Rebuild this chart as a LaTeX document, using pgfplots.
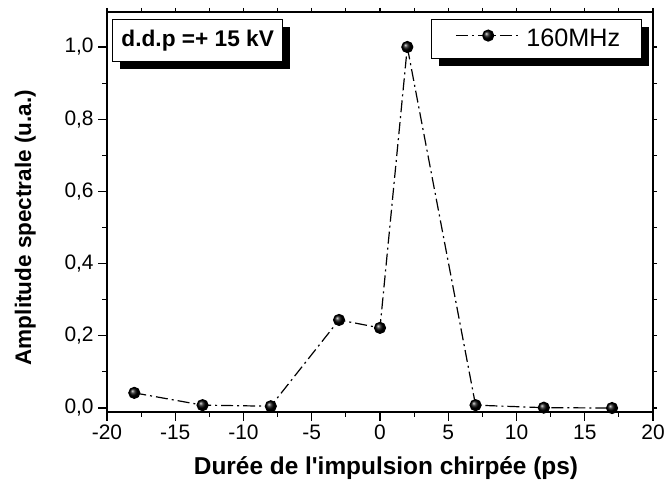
\documentclass[border=0pt]{standalone}
\usepackage{fontspec}
\setmainfont{Liberation Sans}
\usepackage{pgfplots}
\pgfplotsset{compat=1.18}
\usetikzlibrary{shadows}
\makeatletter
\tikzset{no preactions/.code={\let\tikz@preactions\pgfutil@empty}}
\makeatother
\begin{document}
\begin{tikzpicture}
\pgfplotsset{
  common/.style={
    scale only axis, width=409.5pt, height=300pt,
    xmin=-20, xmax=20, ymin=-0.011, ymax=1.097,
    xtick={-20,-15,...,20}, minor x tick num=1,
    ytick={0,0.2,...,1.0}, minor y tick num=1,
    tick align=outside,
    axis line style={line width=1pt},
    every tick/.style={black, line width=0.8pt},
    /pgf/number format/assume math mode=true,
  }
}
\begin{axis}[common,
    name=ax,
    xtick pos=bottom, ytick pos=left,
    major tick length=6.5pt, minor tick length=3.5pt,
    tick label style={font=\fontsize{15.7}{18}\selectfont},
    yticklabel style={/pgf/number format/.cd, fixed, fixed zerofill, precision=1, use comma},
    xticklabel style={/pgf/number format/.cd, fixed, precision=0},
    xlabel={Durée de l\textquotesingle impulsion chirpée (ps)},
    ylabel={Amplitude spectrale (u.a.)},
    xlabel style={font=\bfseries\fontsize{18.3}{21}\selectfont, at={(axis description cs:0.511,-0.157)}, anchor=base},
    ylabel style={font=\bfseries\fontsize{16.9}{20}\selectfont, at={(axis description cs:-0.139,0.461)}, anchor=base},
    legend style={at={(axis description cs:0.98,0.9825)}, anchor=north east,
      draw=black, line width=0.8pt, fill=white,
      drop shadow={shadow xshift=5.5pt, shadow yshift=-5.5pt, fill=black, opacity=1},
      font=\fontsize{18.9}{22}\selectfont,
      inner xsep=12pt, inner ysep=5.25pt,
      nodes={inner xsep=4pt, no preactions}},
    legend image code/.code={
      \path[no preactions, draw=none, fill=none] (-6pt,0.09cm) -- (0cm,0.09cm);
      \draw[no preactions, mark repeat=2, mark phase=2, #1] plot coordinates {(0cm,0.09cm) (0.85cm,0.09cm) (1.7cm,0.09cm)};
    },
]
\addplot[black, line width=0.9pt, dash pattern=on 9pt off 3pt on 1.5pt off 3pt,
  mark=ball, mark size=4.1pt, mark options={solid, ball color=black}]
  coordinates {
  (-18,0.042) (-13,0.008) (-8,0.005) (-3,0.244) (0,0.222)
  (2,1.0) (7,0.008) (12,0.001) (17,0.0)
  };
\addlegendentry{160MHz}
\node[draw=black, line width=0.8pt, fill=white, anchor=north west,
  drop shadow={shadow xshift=5.5pt, shadow yshift=-5.5pt, fill=black, opacity=1},
  font=\bfseries\fontsize{17}{20}\selectfont, inner xsep=6.75pt, inner ysep=0pt,
  minimum height=31.5pt]
  at (axis description cs:0.009,0.9825) {d.d.p =+ 15 kV};
\end{axis}
\begin{axis}[common,
    xtick pos=top, ytick pos=right,
    major tick length=3pt, minor tick length=3pt,
    xticklabels={}, yticklabels={},
]
\end{axis}
\pgfresetboundingbox
\path[use as bounding box] ([shift={(-80.25pt,-54pt)}]ax.south west) rectangle ([shift={(9pt,9pt)}]ax.north east);
\end{tikzpicture}
\end{document}
